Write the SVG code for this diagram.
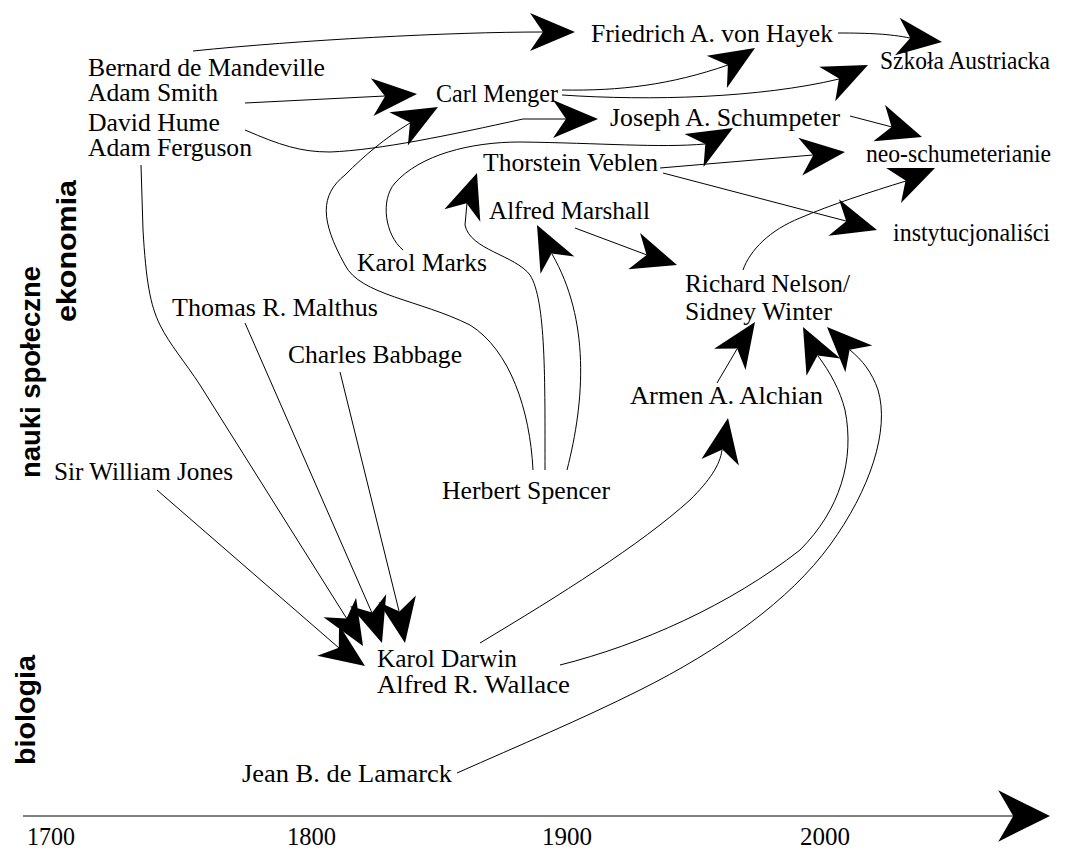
<svg xmlns="http://www.w3.org/2000/svg" xmlns:xlink="http://www.w3.org/1999/xlink" width="1078" height="859" viewBox="0 0 1078 859">
<style>
.t{font-family:"Liberation Serif","Times New Roman",serif;font-size:26px;fill:#000}
.v{font-family:"Liberation Sans",Arial,sans-serif;font-weight:bold;font-size:28px;fill:#000}
.c{fill:none;stroke:#000;stroke-width:1}
.a{fill:#000}
</style>
<defs>
<path id="ah" d="M0,0 L-45,-19 L-32,0 L-45,19 Z"/>
</defs>
<rect width="1078" height="859" fill="#fff"/>

<g id="labels-side">
<text class="v" transform="translate(40,478) rotate(-90)" textLength="212" lengthAdjust="spacingAndGlyphs">nauki społeczne</text>
<text class="v" transform="translate(76,322) rotate(-90)" textLength="142" lengthAdjust="spacingAndGlyphs">ekonomia</text>
<text class="v" transform="translate(35,765) rotate(-90)" textLength="110" lengthAdjust="spacingAndGlyphs">biologia</text>
</g>

<g id="axis">
<line class="c" x1="23" y1="816" x2="1015" y2="816"/>
<use xlink:href="#ah" class="a" transform="translate(1050,816) scale(1.15,1.35)"/>
<text class="t" x="27" y="845" textLength="48" lengthAdjust="spacingAndGlyphs">1700</text>
<text class="t" x="287" y="845" textLength="49" lengthAdjust="spacingAndGlyphs">1800</text>
<text class="t" x="542" y="845" textLength="50" lengthAdjust="spacingAndGlyphs">1900</text>
<text class="t" x="800" y="845" textLength="50" lengthAdjust="spacingAndGlyphs">2000</text>
</g>

<g id="n-mandeville"><text class="t" x="88" y="76" textLength="237" lengthAdjust="spacingAndGlyphs">Bernard de Mandeville</text></g>
<g id="n-smith"><text class="t" x="88" y="101" textLength="130" lengthAdjust="spacingAndGlyphs">Adam Smith</text></g>
<g id="n-hume"><text class="t" x="88" y="131" textLength="132" lengthAdjust="spacingAndGlyphs">David Hume</text></g>
<g id="n-ferguson"><text class="t" x="88" y="156" textLength="164" lengthAdjust="spacingAndGlyphs">Adam Ferguson</text></g>
<g id="n-hayek"><text class="t" x="591" y="42" textLength="242" lengthAdjust="spacingAndGlyphs">Friedrich A.  von Hayek</text></g>
<g id="n-austriacka"><text class="t" x="880" y="69" textLength="170" lengthAdjust="spacingAndGlyphs">Szkoła Austriacka</text></g>
<g id="n-menger"><text class="t" x="436" y="102" textLength="122" lengthAdjust="spacingAndGlyphs">Carl Menger</text></g>
<g id="n-schumpeter"><text class="t" x="610" y="126" textLength="230" lengthAdjust="spacingAndGlyphs">Joseph A.  Schumpeter</text></g>
<g id="n-neo"><text class="t" x="866" y="162" textLength="185" lengthAdjust="spacingAndGlyphs">neo-schumeterianie</text></g>
<g id="n-veblen"><text class="t" x="483" y="171" textLength="175" lengthAdjust="spacingAndGlyphs">Thorstein Veblen</text></g>
<g id="n-instytucjonalisci"><text class="t" x="893" y="241" textLength="157" lengthAdjust="spacingAndGlyphs">instytucjonaliści</text></g>
<g id="n-marshall"><text class="t" x="489" y="219" textLength="161" lengthAdjust="spacingAndGlyphs">Alfred Marshall</text></g>
<g id="n-marks"><text class="t" x="357" y="271" textLength="130" lengthAdjust="spacingAndGlyphs">Karol Marks</text></g>
<g id="n-nelson">
<text class="t" x="685" y="292" textLength="165" lengthAdjust="spacingAndGlyphs">Richard Nelson/</text>
<text class="t" x="685" y="320" textLength="147" lengthAdjust="spacingAndGlyphs">Sidney Winter</text>
</g>
<g id="n-malthus"><text class="t" x="172" y="316" textLength="206" lengthAdjust="spacingAndGlyphs">Thomas R.  Malthus</text></g>
<g id="n-babbage"><text class="t" x="288" y="363" textLength="174" lengthAdjust="spacingAndGlyphs">Charles Babbage</text></g>
<g id="n-alchian"><text class="t" x="630" y="404" textLength="193" lengthAdjust="spacingAndGlyphs">Armen A.  Alchian</text></g>
<g id="n-jones"><text class="t" x="54" y="480" textLength="179" lengthAdjust="spacingAndGlyphs">Sir William Jones</text></g>
<g id="n-spencer"><text class="t" x="442" y="499" textLength="168" lengthAdjust="spacingAndGlyphs">Herbert Spencer</text></g>
<g id="n-darwin">
<text class="t" x="377" y="667" textLength="140" lengthAdjust="spacingAndGlyphs">Karol Darwin</text>
<text class="t" x="377" y="693" textLength="193" lengthAdjust="spacingAndGlyphs">Alfred R.  Wallace</text>
</g>
<g id="n-lamarck"><text class="t" x="242" y="782" textLength="210" lengthAdjust="spacingAndGlyphs">Jean B.  de Lamarck</text></g>

<g id="connectors">
<path class="c" d="M193,51 C300,40 450,32 543,32"/>
<use xlink:href="#ah" class="a" transform="translate(575,32)"/>
<path class="c" d="M245,103 L385,96"/>
<use xlink:href="#ah" class="a" transform="translate(417,94) rotate(-4)"/>
<path class="c" d="M245,130 C280,145 300,152 330,152 C380,150 450,135 523,119 L566,119"/>
<use xlink:href="#ah" class="a" transform="translate(598,119)"/>
<path class="c" d="M562,90 C620,91 670,85 728,65"/>
<use xlink:href="#ah" class="a" transform="translate(755,48) rotate(-32)"/>
<path class="c" d="M562,95 C650,101 760,98 839,79"/>
<use xlink:href="#ah" class="a" transform="translate(868,65) rotate(-25)"/>
<path class="c" d="M838,33 C870,33 890,34 910,38"/>
<use xlink:href="#ah" class="a" transform="translate(942,42) rotate(7)"/>
<path class="c" d="M850,116 L892,127"/>
<use xlink:href="#ah" class="a" transform="translate(922,137) rotate(18)"/>
<path class="c" d="M660,168 L813,155"/>
<use xlink:href="#ah" class="a" transform="translate(845,152) rotate(-6)"/>
<path class="c" d="M663,173 L846,221"/>
<use xlink:href="#ah" class="a" transform="translate(877,230) rotate(16)"/>
<path class="c" d="M403,250 C385,235 380,200 395,183 C420,155 470,142 520,142 C600,143 660,148 705,144"/>
<use xlink:href="#ah" class="a" transform="translate(733,128) rotate(-30)"/>
<path class="c" d="M533,470 C530,410 510,350 470,325 C420,300 360,295 345,265 C320,220 320,195 345,175 C365,155 385,138 410,123"/>
<use xlink:href="#ah" class="a" transform="translate(438,107) rotate(-29)"/>
<path class="c" d="M545,470 C545,380 546,300 530,275 C515,255 470,250 465,225 L467,203"/>
<use xlink:href="#ah" class="a" transform="translate(477,173) rotate(-71)"/>
<path class="c" d="M567,470 C585,400 590,320 552,254"/>
<use xlink:href="#ah" class="a" transform="translate(537,225) rotate(-117)"/>
<path class="c" d="M575,228 L647,255"/>
<use xlink:href="#ah" class="a" transform="translate(677,265) rotate(18)"/>
<path class="c" d="M743,270 C750,250 770,230 800,218 C830,205 870,192 906,181"/>
<use xlink:href="#ah" class="a" transform="translate(935,168) rotate(-23)"/>
<path class="c" d="M717,383 L737,349"/>
<use xlink:href="#ah" class="a" transform="translate(755,322) rotate(-56)"/>
<path class="c" d="M480,643 C560,595 640,545 690,500 C710,480 720,465 722,450"/>
<use xlink:href="#ah" class="a" transform="translate(728,418) rotate(-80)"/>
<path class="c" d="M560,665 C640,645 730,605 800,550 C840,510 855,460 845,410 C840,390 830,372 818,356"/>
<use xlink:href="#ah" class="a" transform="translate(803,327) rotate(-117)"/>
<path class="c" d="M457,773 C520,745 580,720 640,690 C720,650 790,600 830,545 C870,490 890,430 878,390 C872,372 862,360 850,350"/>
<use xlink:href="#ah" class="a" transform="translate(827,327) rotate(-135)"/>
<path class="c" d="M141,165 L143,230 C146,280 150,305 160,325 C170,345 185,362 200,385 L347,619"/>
<use xlink:href="#ah" class="a" transform="translate(363,646) rotate(59)"/>
<path class="c" d="M157,490 L339,648"/>
<use xlink:href="#ah" class="a" transform="translate(365,666) rotate(35)"/>
<path class="c" d="M245,323 L372,613"/>
<use xlink:href="#ah" class="a" transform="translate(382,643) rotate(72)"/>
<path class="c" d="M340,372 L399,611"/>
<use xlink:href="#ah" class="a" transform="translate(405,643) rotate(80)"/>
</g>
</svg>
